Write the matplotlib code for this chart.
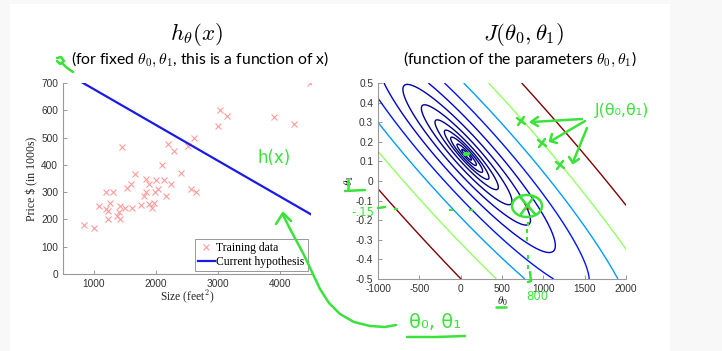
import numpy as np
import matplotlib
matplotlib.use('Agg')
import matplotlib.pyplot as plt
from matplotlib.patches import Rectangle, Ellipse
from matplotlib.colors import Normalize
from matplotlib.ticker import FuncFormatter

plt.rcParams['axes.unicode_minus'] = False
plt.rcParams['mathtext.fontset'] = 'cm'

# ---------------- data ----------------
size_ft2 = [843, 995, 1086, 1195, 1195, 1227, 1232, 1265, 1314, 1378, 1411, 1427,
            1427, 1459, 1492, 1530, 1595, 1611, 1665, 1762, 1800, 1832, 1843, 1886,
            1886, 1930, 1962, 1984, 1995, 2038, 2103, 2130, 2162, 2200, 2238, 2297,
            2400, 2524, 2568, 2611, 2643, 3000, 3032, 3146, 3908, 4232, 4491]
price_k = [180, 170, 250, 299, 240, 230, 200, 259, 299, 214, 229, 200,
           250, 465, 242, 316, 330, 242, 367, 252, 286, 350, 301, 330,
           255, 242, 259, 301, 345, 313, 399, 345, 286, 475, 330, 450,
           370, 470, 313, 499, 301, 541, 600, 580, 575, 551, 700]

theta0_fixed = 808
theta1_fixed = -0.131

left_xticks = [1000, 2000, 3000, 4000]
left_yticks = [0, 100, 200, 300, 400, 500, 600, 700]
right_xticks = [-1000, -500, 0, 500, 1000, 1500, 2000]
right_yticks = [-0.5, -0.4, -0.3, -0.2, -0.1, 0, 0.1, 0.2, 0.3, 0.4, 0.5]
contour_levels = [2300, 3000, 4600, 7000, 12000, 22400, 42400, 80000,
                  151000, 286000, 540000, 1020000]

W, H = 722, 351
fig = plt.figure(figsize=(W / 100, H / 100), dpi=100)
fig.patch.set_facecolor('#f8f8f8')
fig.patches.append(Rectangle((10 / W, 0), 660 / W, 347 / H, transform=fig.transFigure,
                             facecolor='white', edgecolor='none', zorder=-5))

GREEN = '#3ae23a'
tick_kw = dict(labelsize=7.3, labelcolor='#333333', color='#888888', direction='in', length=3, width=0.6)


def style(ax):
    for s in ['top', 'right']:
        ax.spines[s].set_visible(False)
    for s in ['left', 'bottom']:
        ax.spines[s].set_color('#999999')
        ax.spines[s].set_linewidth(0.8)
    ax.tick_params(**tick_kw)
    for lab in ax.get_xticklabels() + ax.get_yticklabels():
        lab.set_family('Liberation Sans')
    ax.patch.set_alpha(0)


# ---------------- left plot ----------------
axL = fig.add_axes([63 / W, 1 - 274 / H, 248 / W, 191 / H])
axL.plot(size_ft2, price_k, 'x', color='#ff9c9c', markersize=4.2, mew=0.8, label='Training data')
xl = np.array([500, 4500])
axL.plot(xl, theta0_fixed + theta1_fixed * xl, color='#1a1ae6', lw=1.6, label='Current hypothesis')
axL.set_xlim(500, 4500)
axL.set_ylim(0, 700)
axL.set_xticks(left_xticks)
axL.set_yticks(left_yticks)
style(axL)
axL.set_xlabel('Size (feet$^2$)', family='Liberation Serif', fontsize=8.3, labelpad=0, color='#222222')
axL.set_ylabel('Price $ (in 1000s)', family='Liberation Serif', fontsize=8.5, labelpad=2, color='#222222')
leg = axL.legend(loc='lower right', prop={'family': 'Liberation Serif', 'size': 8.4},
                 fancybox=False, framealpha=1, edgecolor='#888888', borderpad=0.25,
                 handlelength=1.5, handletextpad=0.1, labelspacing=0.15, borderaxespad=0.3)
leg.get_frame().set_linewidth(0.6)

# ---------------- right plot ----------------
axR = fig.add_axes([378 / W, 1 - 279 / H, 248 / W, 196 / H])
x = np.array(size_ft2, dtype=float)
y = np.array(price_k, dtype=float)
t0 = np.linspace(-1000, 2000, 400)
t1 = np.linspace(-0.5, 0.5, 400)
T0, T1 = np.meshgrid(t0, t1)
J = ((T0[..., None] + T1[..., None] * x - y) ** 2).sum(-1) / (2 * len(x))
axR.contour(T0, T1, J, levels=contour_levels, cmap='jet',
            norm=Normalize(vmin=min(contour_levels), vmax=max(contour_levels)), linewidths=1.0)
axR.plot([theta0_fixed], [theta1_fixed], 'x', color='red', markersize=3, mew=1)
axR.set_xlim(-1000, 2000)
axR.set_ylim(-0.5, 0.5)
axR.set_xticks(right_xticks)
axR.set_yticks(right_yticks)
axR.yaxis.set_major_formatter(FuncFormatter(lambda v, p: '%g' % round(v, 2)))
style(axR)
axR.set_xlabel(r'$\theta_0$', fontsize=8, labelpad=0)
axR.set_ylabel(r'$\theta_1$', fontsize=8, labelpad=0)

# ---------------- titles ----------------
fig.text(196 / W, 1 - 35 / H, r'$h_\theta(x)$', fontsize=16.5, ha='center', va='center')
fig.text(524 / W, 1 - 35 / H, r'$J(\theta_0,\theta_1)$', fontsize=16.5, ha='center', va='center')
fig.text(200 / W, 1 - 59 / H, r'(for fixed $\theta_0,\theta_1$, this is a function of x)',
         family='Lato', fontsize=11.3, ha='center', va='center')
fig.text(520 / W, 1 - 59 / H, r'(function of the parameters $\theta_0,\theta_1$)',
         family='Lato', fontsize=11.3, ha='center', va='center')

# ---------------- handwritten annotations (pixel overlay) ----------------
ov = fig.add_axes([0, 0, 1, 1], zorder=10)
ov.set_xlim(0, W)
ov.set_ylim(H, 0)
ov.axis('off')
ov.patch.set_alpha(0)
pk = dict(color=GREEN, lw=1.8, solid_capstyle='round', solid_joinstyle='round')

# small squiggle near subtitle
ov.plot([57, 61, 64, 60, 57], [58, 57, 61, 64, 61], **pk)
ov.plot([62, 66, 70, 73], [63, 67, 70, 72], **pk)

# h(x)
ov.text(274, 158, 'h(x)', color=GREEN, fontsize=12, ha='center', va='center', family='DejaVu Sans')
# arrow curve to theta0, theta1
cx = [283, 289, 296, 304, 312, 320, 329, 340, 354, 370, 385, 396]
cy = [215, 227, 240, 255, 272, 289, 303, 314, 322, 326, 327, 325]
ov.plot(cx, cy, **pk)
ov.plot([276, 283, 291], [224, 213, 221], **pk)
ov.text(435, 322, 'θ₀, θ₁', color=GREEN, fontsize=14, ha='center', va='center', family='DejaVu Sans')
ov.plot([407, 436, 465], [337, 337, 336], **pk)

# J(theta0, theta1) annotation
ov.text(622, 110, 'J(θ₀,θ₁)', color=GREEN, fontsize=11.5, ha='center', va='center', family='DejaVu Sans')
ov.plot([582, 532], [119, 122], **pk)
ov.plot([538, 531, 538], [117, 122, 126], **pk)
ov.plot([585, 551], [121, 141], **pk)
ov.plot([552, 550, 557], [134, 141, 143], **pk)
ov.plot([587, 573], [128, 162], **pk)
ov.plot([569, 573, 579], [157, 163, 159], **pk)
for (mx, my) in [(521, 121), (542, 143), (560, 165)]:
    ov.plot([mx - 4, mx + 4], [my - 3, my + 3], **pk)
    ov.plot([mx - 3, mx + 3], [my + 4, my - 4], **pk)

# minimum dot
ov.plot([465, 468], [154, 154], color=GREEN, lw=3, solid_capstyle='round')
# circle with X
ov.add_patch(Ellipse((527, 206), 30, 22, fill=False, edgecolor=GREEN, lw=1.8))
ov.plot([520, 535], [197, 214], **pk)
ov.plot([533, 521], [198, 214], **pk)
# dotted vertical to 800
for (dx, dy) in [(528, 223), (527, 230), (527, 238), (528, 256), (528, 266)]:
    ov.plot([dx, dx], [dy, dy + 2], color=GREEN, lw=1.5)
ov.plot([530, 531, 528], [272, 281, 282], **pk)
ov.text(537, 297, '800', color=GREEN, fontsize=8.5, ha='center', va='center', family='DejaVu Sans')
ov.plot([496, 506], [307, 307], **pk)

# -.15 and theta1 marks
ov.text(363, 212, '-.15', color=GREEN, fontsize=8.5, ha='center', va='center', family='DejaVu Sans')
ov.plot([378, 385], [208, 207], **pk)
ov.plot([348, 348], [180, 189], **pk)
ov.plot([345, 365], [191, 190], **pk)
for (dx, dy) in [(395, 209), (450, 210), (470, 210)]:
    ov.plot([dx, dx + 2], [dy, dy], color=GREEN, lw=1.5)

fig.savefig('out.png', dpi=100, facecolor=fig.get_facecolor())
